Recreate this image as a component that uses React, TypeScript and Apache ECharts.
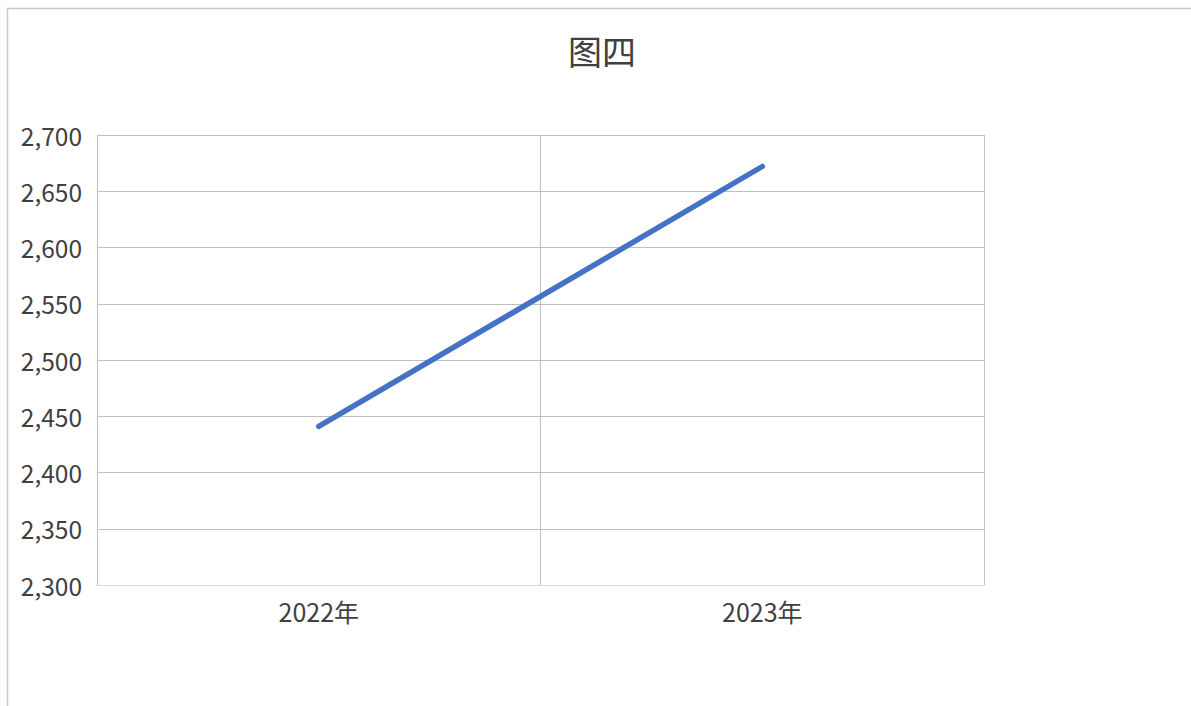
import React, { useEffect, useRef } from "react";
import * as echarts from "echarts";

const titleText = "图四";
const categories = ["2022年", "2023年"];
const values = [2441, 2672];
const yMin = 2300;
const yMax = 2700;
const yInterval = 50;

export default function App() {
  const ref = useRef<HTMLDivElement>(null);
  useEffect(() => {
    if (!ref.current) return;
    const chart = echarts.init(ref.current, null, { renderer: "svg" });
    const font = "'Noto Sans CJK SC', 'Noto Sans', sans-serif";
    chart.setOption({
      animation: false,
      backgroundColor: "#ffffff",
      title: {
        text: titleText,
        left: 597,
        textAlign: "center",
        top: 28,
        textStyle: { fontFamily: font, fontSize: 34, fontWeight: "normal", color: "#404040" },
      },
      graphic: [
        {
          type: "rect",
          shape: { x: 7.5, y: 8.5, width: 1400, height: 900 },
          style: { fill: "none", stroke: "#c8c8c8", lineWidth: 1.5 },
          silent: true,
        },
      ],
      grid: { left: 97, right: 207, top: 135, bottom: 121, show: false },
      xAxis: {
        type: "category",
        data: categories,
        boundaryGap: true,
        axisLine: { show: true, lineStyle: { color: "#d9d9d9", width: 1 } },
        axisTick: { show: false },
        splitLine: { show: true, interval: 0, lineStyle: { color: "#bfbfbf", width: 1 } },
        axisLabel: { fontFamily: font, fontSize: 25, color: "#404040", margin: 13 },
      },
      yAxis: {
        type: "value",
        min: yMin,
        max: yMax,
        interval: yInterval,
        axisLine: { show: true, lineStyle: { color: "#bfbfbf", width: 1 } },
        axisTick: { show: false },
        splitLine: { show: true, lineStyle: { color: "#bfbfbf", width: 1 } },
        axisLabel: {
          fontFamily: font,
          fontSize: 24.5,
          color: "#404040",
          margin: 15,
          formatter: (v: number) => v.toLocaleString("en-US"),
        },
      },
      series: [
        {
          type: "line",
          data: values,
          showSymbol: false,
          symbol: "none",
          lineStyle: { color: "#4472c4", width: 5.5, cap: "round" },
        },
      ],
    });
    return () => chart.dispose();
  }, []);
  return (
    <div
      ref={ref}
      style={{ position: "fixed", left: 0, top: 0, width: 1191, height: 706 }}
    />
  );
}
